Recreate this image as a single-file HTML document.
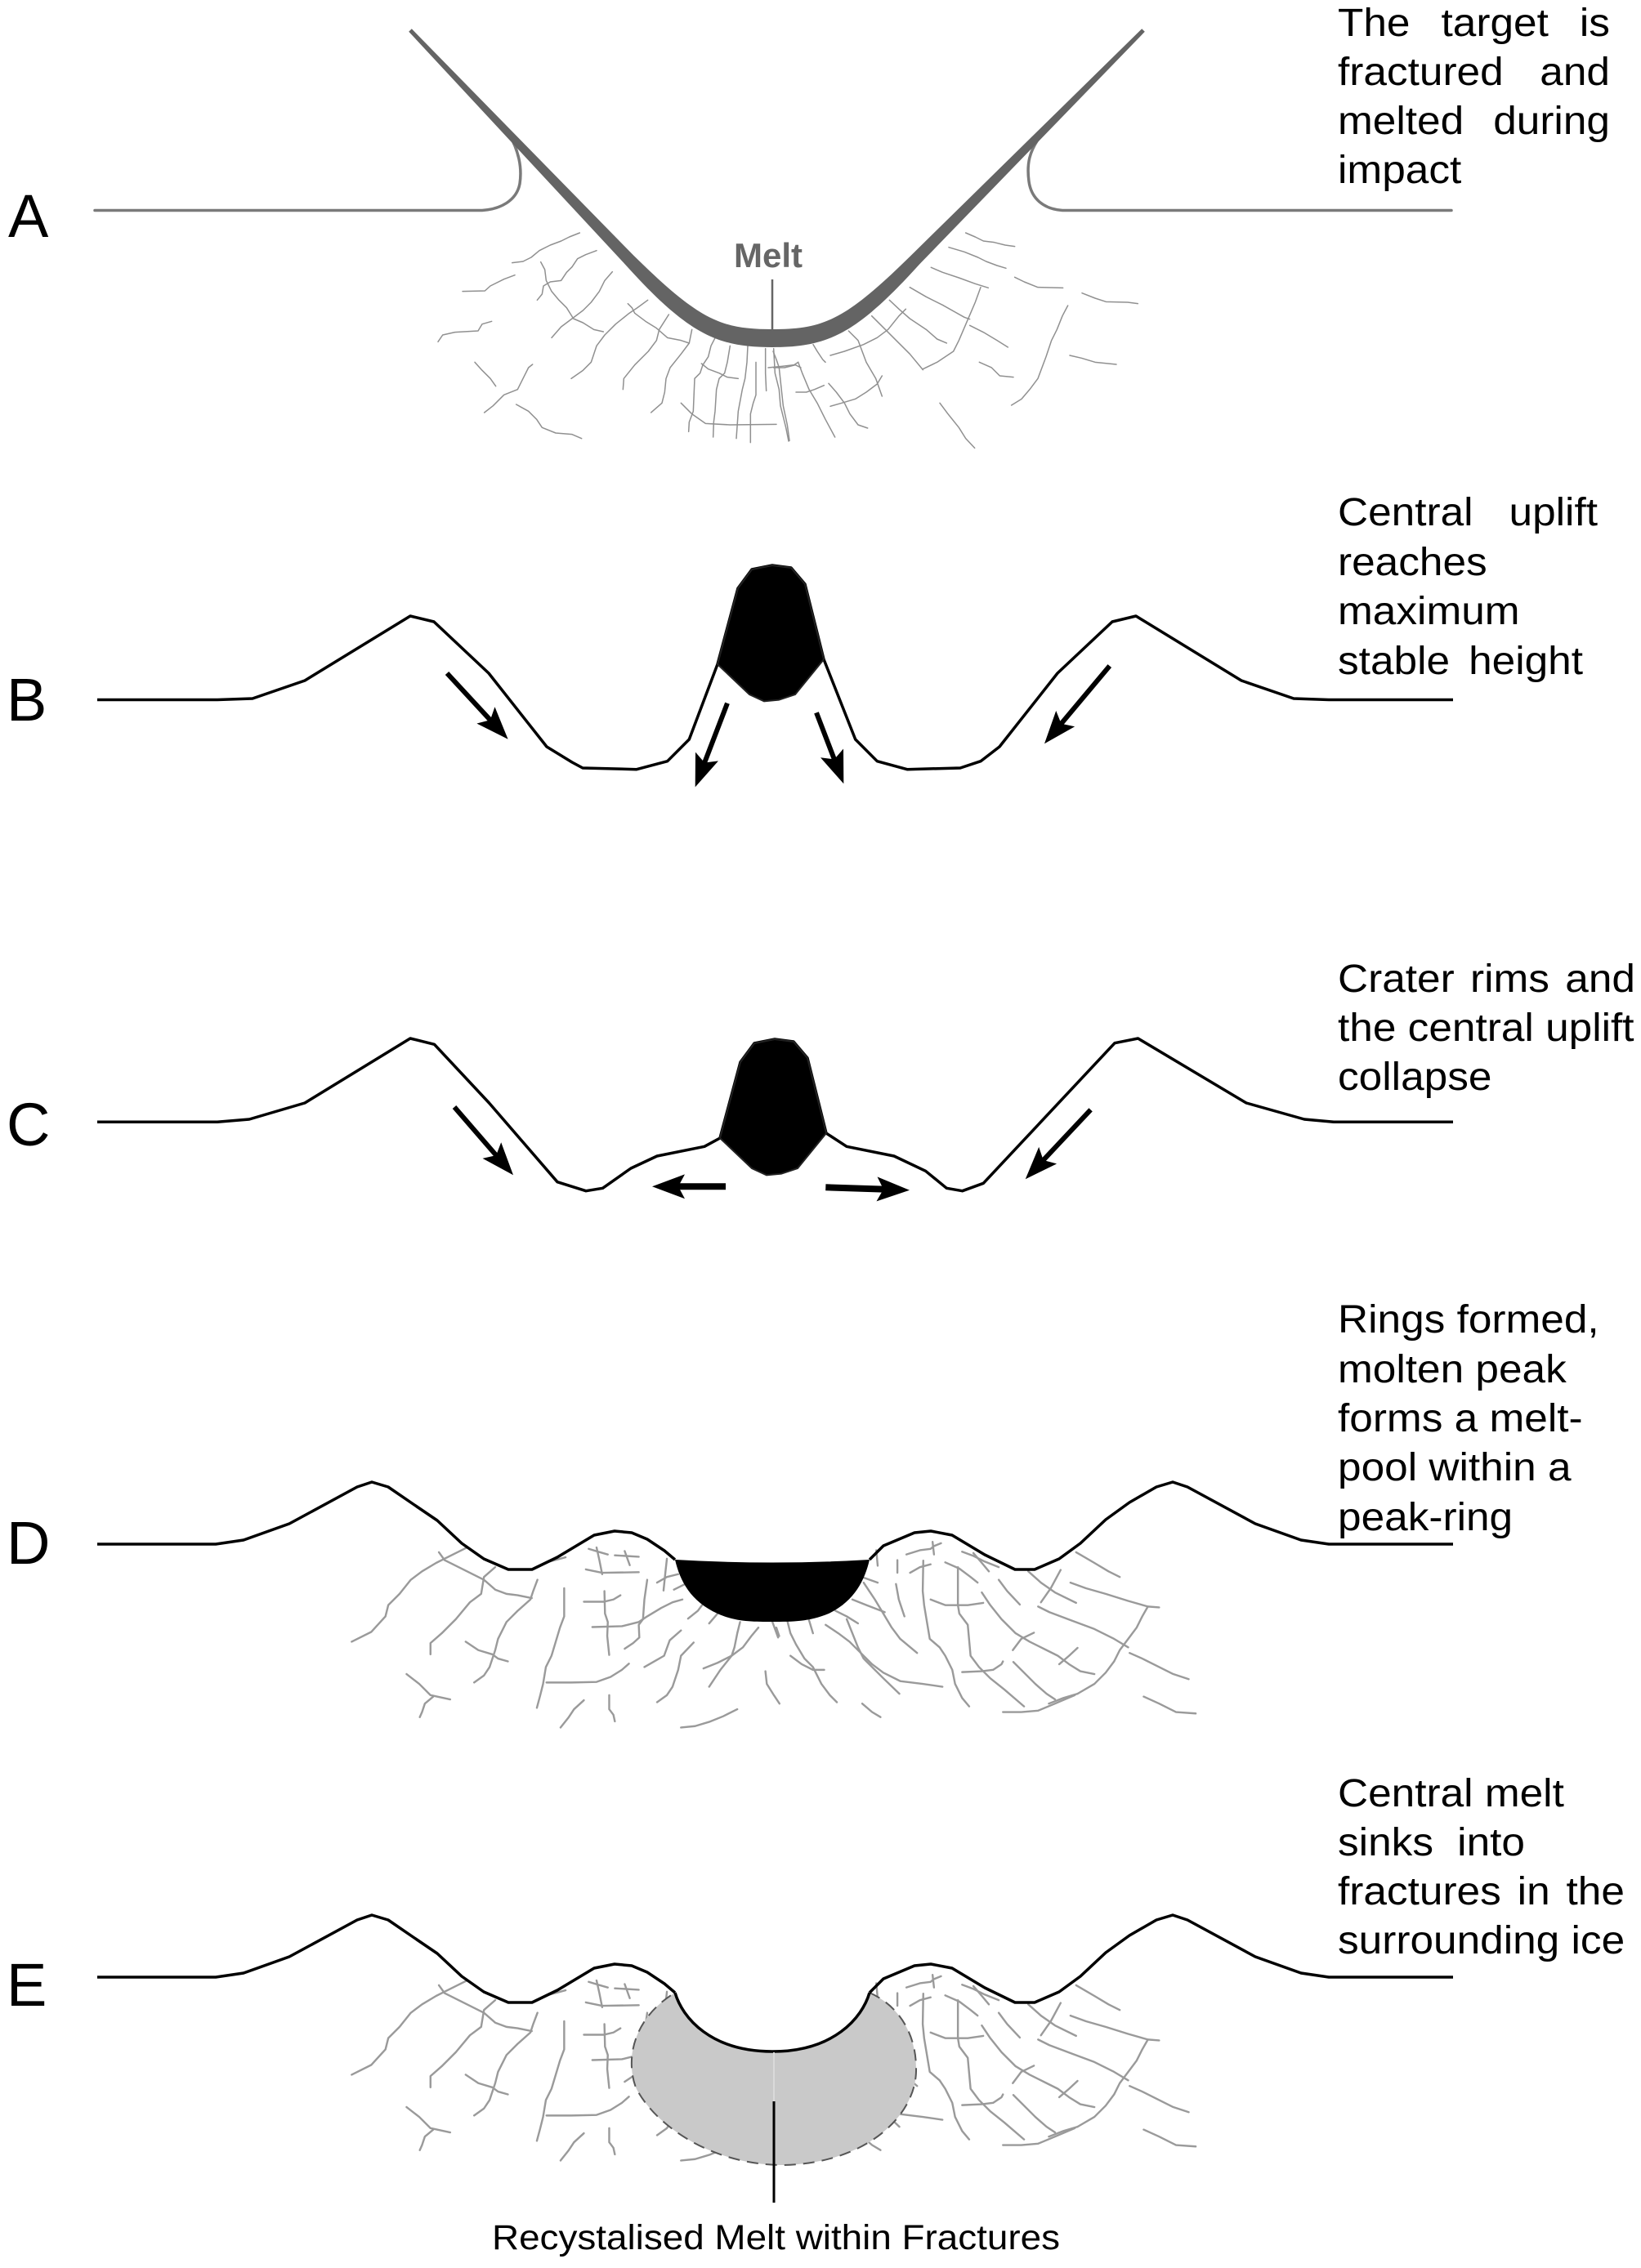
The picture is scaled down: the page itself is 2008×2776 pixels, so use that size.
<!DOCTYPE html>
<html>
<head>
<meta charset="utf-8">
<style>
html,body{margin:0;padding:0;background:#fff;}
body{width:2008px;height:2776px;position:relative;overflow:hidden;font-family:"Liberation Sans",Arial,sans-serif;}
svg{position:absolute;left:0;top:0;}
.t{position:absolute;left:1637px;font-size:48px;line-height:60px;height:60px;white-space:nowrap;transform:scaleX(1.07);transform-origin:0 0;color:#000;}
.j{display:flex;justify-content:space-between;}
</style>
</head>
<body>
<svg width="2008" height="2776" viewBox="0 0 2008 2776" xmlns="http://www.w3.org/2000/svg">
<defs>
<marker id="ah" markerUnits="userSpaceOnUse" markerWidth="40" markerHeight="30" viewBox="0 0 40 30" refX="12" refY="15" orient="auto">
<path d="M0,0 L40,15 L0,30 L8,15 Z" fill="#000"/>
</marker>
</defs>

<!-- Labels -->
<g font-family="Liberation Sans, Arial, sans-serif" font-size="74" fill="#000">
<text x="10" y="290">A</text>
<text x="8" y="882">B</text>
<text x="8" y="1402">C</text>
<text x="8" y="1914">D</text>
<text x="8" y="2455">E</text>
</g>

<!-- ================= PANEL A ================= -->
<g fill="none" stroke="#909090" stroke-width="4.5" stroke-linejoin="round" stroke-linecap="round" transform="translate(500,230) scale(0.33333)">
<path d="M380,275 L420,270 L450,255 L480,230 L520,210 L560,195 L590,180 L628,165"/>
<path d="M198,380 L280,378 L300,360 L350,335 L390,320"/>
<path d="M485,272 L500,300 L505,340 L525,380 L550,410 L580,440 L605,480 L640,495 L680,520 L715,528"/>
<path d="M472,412 L490,390 L495,360 L520,345 L560,340 L580,310 L600,290 L620,260 L650,245 L690,230"/>
<path d="M525,550 L560,510 L600,480 L640,450 L670,420 L700,380 L720,340 L748,308"/>
<path d="M108,565 L125,540 L170,530 L255,525 L270,500 L305,490"/>
<path d="M243,640 L270,670 L300,700 L320,728"/>
<path d="M278,825 L310,800 L350,760 L400,740 L420,700 L440,660 L455,648"/>
<path d="M395,795 L440,820 L470,850 L490,880 L540,900 L600,905 L635,920"/>
<path d="M597,700 L640,670 L670,640 L690,580 L720,540 L760,500 L810,460 L840,440 L878,412"/>
<path d="M805,425 L820,440 L830,460 L870,490 L910,515 L950,550 L1000,560 L1030,570"/>
<path d="M787,740 L790,700 L830,650 L880,600 L910,560 L920,520 L955,465"/>
<path d="M890,825 L930,790 L940,750 L945,700 L960,660 L1000,610 L1030,570 L1040,520"/>
<path d="M1000,790 L1040,830 L1090,865 L1180,870 L1350,868"/>
<path d="M1028,895 L1030,860 L1045,820 L1050,700 L1070,680 L1080,650 L1100,620 L1110,580 L1128,545"/>
<path d="M1118,915 L1120,860 L1125,820 L1130,740 L1140,700 L1160,680 L1170,640 L1180,580"/>
<path d="M1075,645 L1100,665 L1140,680 L1170,695 L1210,700"/>
<path d="M1203,920 L1210,820 L1225,740 L1235,700 L1242,640 L1245,580"/>
<path d="M1255,935 L1255,830 L1265,790 L1275,760 L1275,640"/>
<path d="M1313,745 L1310,680 L1310,590"/>
<path d="M1395,930 L1385,880 L1375,840 L1365,800 L1360,740 L1345,680 L1340,590"/>
<path d="M1340,660 L1380,660 L1420,650 L1440,660"/>
</g>
<g fill="none" stroke="#909090" stroke-width="4.5" stroke-linejoin="round" stroke-linecap="round" transform="translate(940,230) scale(0.33333)">
<path d="M725,165 L760,180 L790,195 L830,200 L870,210 L905,215"/>
<path d="M663,218 L720,235 L770,255 L800,270 L840,285 L873,295"/>
<path d="M598,292 L640,310 L700,330 L760,352 L808,367"/>
<path d="M905,328 L940,345 L990,365 L1082,367"/>
<path d="M1152,386 L1200,405 L1240,418 L1320,420 L1357,425"/>
<path d="M520,365 L580,400 L640,430 L720,475 L740,482"/>
<path d="M780,365 L760,420 L730,490 L700,560 L680,600 L620,640 L568,665"/>
<path d="M445,412 L480,445 L520,480 L580,520 L620,555 L655,570"/>
<path d="M380,470 L430,520 L470,560 L520,610 L568,668"/>
<path d="M740,505 L790,530 L840,560 L880,585"/>
<path d="M505,445 L480,470 L440,520 L400,550 L350,575 L280,600 L228,615"/>
<path d="M295,525 L330,560 L345,600 L360,640 L395,700 L418,765"/>
<path d="M165,575 L180,600 L200,630 L210,640"/>
<path d="M102,750 L140,750 L170,740 L205,725"/>
<path d="M228,802 L270,790 L320,775 L360,750 L400,720 L418,690"/>
<path d="M222,718 L250,750 L280,790 L300,830 L330,870 L365,882"/>
<path d="M110,640 L125,680 L150,740 L180,790 L210,850 L245,915"/>
<path d="M18,600 L30,630 L40,660 L55,800 L70,870 L78,928"/>
<path d="M0,660 L50,655 L95,650 L110,640"/>
<path d="M775,640 L820,660 L850,690 L900,695"/>
<path d="M1100,432 L1080,470 L1060,520 L1040,560 L1020,620 L990,700 L960,740 L930,775 L893,798"/>
<path d="M1107,615 L1150,625 L1200,640 L1278,648"/>
<path d="M630,790 L660,830 L700,880 L725,920 L758,955"/>
</g>
<!-- hooks / ground line A -->
<g fill="none" stroke="#7a7a7a" stroke-width="3.5" stroke-linecap="round">
<path d="M116,257.5 L590,257.5 C612,256 632,246 636,225 C639,205 635,185 622,162"/>
<path d="M1776,257.5 L1300,257.5 C1278,256 1262,244 1259,222 C1256,200 1260,185 1272,168"/>
</g>
<!-- melt pointer -->
<line x1="945" y1="342" x2="945" y2="410" stroke="#666" stroke-width="2.5"/>
<!-- melt V band -->
<path d="M500.2,38.7 L764.6,323.2 C843,410 878,425 945,425 C1012,425 1047,410 1125.3,323.3 L1400.8,38.8 L1397.2,35.2 L1114.7,312.7 C1034,392 1008,403 945,403 C882,403 856,392 775.4,312.8 L503.8,35.3 Z" fill="#646464"/>
<text x="898" y="327" font-family="Liberation Sans, Arial, sans-serif" font-size="42" font-weight="bold" fill="#666">Melt</text>

<!-- ================= PANEL B ================= -->
<path d="M119,856.5 L266,856.5 L309,855 L373,833 L502,754 L531,761 L598,824 L669,914 L700,933 L713,940 L779,941.7 L816.7,931.7 L843.3,905 L878,813 L903,720 L920,697 L945,692 L968,695 L985,715 L1008,807 L1046.7,905 L1073.3,931.7 L1110,941.7 L1175,940 L1200,931.7 L1223,914 L1294,824 L1361,761 L1390,754 L1519,833 L1583,855 L1626,856.5 L1778,856.5" fill="none" stroke="#000" stroke-width="3.5" stroke-linejoin="round"/>
<path d="M878,813 L903,720 L920,697 L945,692 L968,695 L985,715 L1008,807 L973,850 L953,856.7 L935,858.3 L917,850 Z" fill="#000" stroke="#222" stroke-width="2"/>
<g stroke="#000" stroke-width="6" marker-end="url(#ah)">
<line x1="547" y1="824" x2="602.6" y2="884.2"/>
<line x1="890" y1="860.7" x2="860.7" y2="937.2"/>
<line x1="999" y1="872.3" x2="1022.3" y2="933.1"/>
<line x1="1357.8" y1="815.1" x2="1296" y2="888.8"/>
</g>

<!-- ================= PANEL C ================= -->
<path d="M119,1373.3 L266,1373.3 L305,1370 L373,1350 L502,1271 L531.5,1278.3 L598.5,1350 L682,1446.7 L717,1457.7 L737.5,1454.3 L772,1430 L804,1415 L862,1403.3 L881,1393 L906,1300 L923,1277 L948,1272 L971,1275 L988,1295 L1011,1387 L1036,1403.3 L1094,1415 L1132.6,1433.3 L1158.3,1454.3 L1177.6,1457.7 L1203.3,1448.3 L1364,1276.7 L1392.5,1271 L1525,1350 L1596,1370 L1632,1373.3 L1778,1373.3" fill="none" stroke="#000" stroke-width="3.5" stroke-linejoin="round"/>
<path d="M881,1393 L906,1300 L923,1277 L948,1272 L971,1275 L988,1295 L1011,1387 L976,1430 L956,1436.7 L938,1438.3 L920,1430 Z" fill="#000" stroke="#222" stroke-width="2"/>
<g stroke="#000" stroke-width="6" marker-end="url(#ah)">
<line x1="556" y1="1355" x2="609.7" y2="1417.1"/>
<line x1="1334.6" y1="1358.3" x2="1273.9" y2="1422.9"/>
</g>
<g stroke="#000" stroke-width="8" marker-end="url(#ah)">
<line x1="888" y1="1452.3" x2="826" y2="1452.3"/>
<line x1="1010.3" y1="1453.3" x2="1085" y2="1455.8"/>
</g>

<!-- ================= PANEL D ================= -->
<g id="dfr" fill="none" stroke="#9a9a9a" stroke-linejoin="round" stroke-linecap="round">
<g stroke-width="7" transform="translate(420,1820) scale(0.3444)">
<path d="M30,550 L100,515 L150,460 L160,420 L200,380 L240,330 L280,300 L330,270 L360,255 L400,235 L440,215"/>
<path d="M340,232 L360,260 L400,280 L450,305 L500,330 L540,365 L580,380 L620,385 L670,395"/>
<path d="M540,285 L500,320 L490,380 L450,410 L400,470 L350,520 L310,555 L310,595"/>
<path d="M690,330 L675,370 L665,400 L620,440 L580,480 L550,540 L540,580 L520,640 L500,670 L465,695"/>
<path d="M435,550 L480,580 L530,595 L550,610 L585,620"/>
<path d="M225,665 L270,700 L310,740 L380,755"/>
<path d="M320,745 L290,770 L280,800 L272,818"/>
<path d="M785,360 L785,460 L770,500 L755,550 L740,600 L720,640 L710,700 L700,740 L688,785"/>
<path d="M722,695 L810,695 L900,693 L950,675 L990,650 L1015,628"/>
<path d="M855,408 L925,408 L960,400 L985,385"/>
<path d="M928,370 L930,450 L940,480 L938,530 L945,597"/>
<path d="M885,498 L990,495 L1050,480 L1080,460 L1130,430 L1170,410 L1205,400"/>
<path d="M1080,330 L1070,400 L1065,470 L1050,490 L1052,535 L1030,555 L1000,575"/>
<path d="M872,220 L905,230 L940,240 M900,215 L910,260 L920,310"/>
<path d="M965,243 L1050,248 M1000,228 L1018,278"/>
<path d="M862,293 L920,305 L1050,303"/>
<path d="M1150,255 L1145,300 L1138,368"/>
<path d="M1115,340 L1150,320 L1190,310"/>
<path d="M1175,365 L1215,345"/>
<path d="M1200,510 L1160,545 L1140,600 L1070,640"/>
<path d="M1245,553 L1200,600 L1190,650 L1170,710 L1150,740 L1115,765"/>
<path d="M1225,468 L1260,440 L1275,420"/>
<path d="M1300,485 L1330,450"/>
<path d="M1410,480 L1400,520 L1390,570 L1380,600 L1340,650 L1300,710"/>
<path d="M1475,500 L1450,530 L1420,570 L1380,600 L1330,625 L1280,645"/>
<path d="M1500,655 L1505,700 L1530,740 L1550,770"/>
<path d="M1400,790 L1350,815 L1300,835 L1250,850 L1200,855"/>
<path d="M855,758 L820,790 L800,820 L772,855"/>
<path d="M945,740 L945,790 L960,810 L965,833"/>
<path d="M1525,480 L1545,535"/>
<path d="M722,268 L790,250"/>
</g>
<g stroke-width="7" transform="translate(950,1820) scale(0.3444)">
<path d="M1065,232 L1130,270 L1180,300 L1220,320"/>
<path d="M1045,340 L1100,360 L1170,380 L1250,405 L1320,425 L1360,428"/>
<path d="M1320,425 L1300,460 L1280,500 L1250,540 L1220,580 L1200,620 L1170,660 L1130,700 L1070,735"/>
<path d="M930,425 L970,445 L1050,475 L1130,505 L1200,540 L1250,570"/>
<path d="M1255,590 L1300,610 L1360,640 L1410,665 L1465,683"/>
<path d="M1010,295 L975,360 L940,410"/>
<path d="M895,300 L940,340 L990,375 L1065,412"/>
<path d="M790,330 L820,370 L865,418"/>
<path d="M730,375 L760,420 L800,470 L850,520 L900,550 L960,580 L1000,600 L1040,630 L1080,655 L1130,665"/>
<path d="M915,518 L870,540 L840,580"/>
<path d="M1070,572 L1040,600 L1005,630"/>
<path d="M842,622 L880,660 L920,700 L960,735 L990,755"/>
<path d="M968,770 L1020,750 L1070,735"/>
<path d="M805,800 L870,800 L930,795 L990,770 L1060,740"/>
<path d="M1305,745 L1360,770 L1420,800 L1490,805"/>
<path d="M660,230 L700,245 L740,265 L790,285"/>
<path d="M700,235 L730,270 L755,300"/>
<path d="M600,268 L650,290 L690,320 L715,340"/>
<path d="M645,285 L645,350 L645,420 L650,450 L680,490 L690,600 L720,640 L760,680 L810,720 L880,780"/>
<path d="M548,400 L600,420 L680,420 L735,412"/>
<path d="M522,262 L520,370 L525,420 L535,480 L545,540 L580,570 L600,600 L625,650 L635,700 L660,750 L685,780"/>
<path d="M475,305 L510,285 L548,275"/>
<path d="M462,240 L510,225 L548,220 L560,210 L585,200"/>
<path d="M555,195 L560,240"/>
<path d="M430,260 L430,305"/>
<path d="M425,345 L435,400 L455,460"/>
<path d="M355,225 L360,280"/>
<path d="M310,340 L330,370 L350,400 L380,450 L410,500 L440,540 L500,590"/>
<path d="M290,315 L360,340"/>
<path d="M270,400 L320,420 L385,445"/>
<path d="M210,440 L250,460 L290,485"/>
<path d="M175,490 L220,520 L260,550 L300,590 L340,630 L380,660 L440,690 L520,700 L590,710"/>
<path d="M250,470 L270,520 L290,570 L310,610 L340,640 L380,680 L437,735"/>
<path d="M115,470 L130,520"/>
<path d="M50,600 L90,630 L130,650 L170,650"/>
<path d="M40,480 L50,520 L70,560 L100,610 L130,640 L160,700 L190,740 L215,765"/>
<path d="M0,500 L10,530"/>
<path d="M305,770 L340,800 L370,818"/>
<path d="M660,658 L730,655 L770,650 L800,630 L805,620"/>
</g>
</g>
<!-- D pool -->
<path d="M826,1909 Q945,1916 1064,1909 C1058,1935 1045,1960 1014,1975 C990,1985 970,1985 945,1985 C920,1985 900,1985 878,1975 C845,1960 832,1935 826,1909 Z" fill="#000"/>
<path id="dprof" d="M119,1890 L264,1890 L298,1885 L354,1865 L437,1820 L455,1814 L475,1820 L510,1844 L535,1861 L565,1889 L592,1908 L622,1921 L651,1921 L682,1906 L727,1879 L752,1874 L773,1876 L792,1884 L813,1898 L826,1909 M1064,1909 L1081,1892 L1119,1876 L1139,1874 L1165,1879 L1205,1903 L1242,1921 L1266,1921 L1296,1908 L1322,1889 L1353,1860 L1382,1839 L1415,1820 L1435,1814 L1453,1820 L1536,1865 L1592,1885 L1626,1890 L1778,1890" fill="none" stroke="#000" stroke-width="3.5" stroke-linejoin="round"/>

<!-- ================= PANEL E ================= -->
<use href="#dfr" transform="translate(0,530)"/>
<g transform="translate(0,530)">
<path d="M826,1909 L1064,1909 C1055,1940 1020,1981 945,1981 C870,1981 835,1940 826,1909 Z" fill="#fff"/>
<path d="M826,1909 C835,1940 870,1981 945,1981 C1020,1981 1055,1940 1064,1909 C1100,1925 1122,1960 1121,2005 C1120,2060 1060,2118 958,2120 C870,2120 800,2070 778,2025 C765,1990 775,1940 826,1909 Z" fill="#c9c9c9"/>
<path d="M1064,1909 C1100,1925 1122,1960 1121,2005 C1120,2060 1060,2118 958,2120 C870,2120 800,2070 778,2025 C765,1990 775,1940 826,1909" fill="none" stroke="#555" stroke-width="2" stroke-dasharray="14 9"/>
<use href="#dprof"/>
<path d="M826,1909 C835,1940 870,1981 945,1981 C1020,1981 1055,1940 1064,1909" fill="none" stroke="#000" stroke-width="3.5"/>
</g>
<line x1="947" y1="2512" x2="947" y2="2572" stroke="#dadada" stroke-width="2"/>
<line x1="947" y1="2572" x2="947" y2="2696" stroke="#000" stroke-width="3"/>
<text x="602" y="2753" font-family="Liberation Sans, Arial, sans-serif" font-size="43" textLength="695" lengthAdjust="spacingAndGlyphs" fill="#000">Recystalised Melt within Fractures</text>
</svg>

<!-- Right-side descriptions -->
<div class="t j" style="top:-0.9px;width:311.2px"><span>The</span><span>target</span><span>is</span></div>
<div class="t j" style="top:59.4px;width:311.2px"><span>fractured</span><span>and</span></div>
<div class="t j" style="top:119.1px;width:311.2px"><span>melted</span><span>during</span></div>
<div class="t" style="top:179.1px">impact</div>

<div class="t j" style="top:598.4px;width:297.2px"><span>Central</span><span>uplift</span></div>
<div class="t" style="top:658.9px">reaches</div>
<div class="t" style="top:719.4px">maximum</div>
<div class="t j" style="top:779.7px;width:280.4px"><span>stable</span><span>height</span></div>

<div class="t j" style="top:1169.4px;width:340.2px"><span>Crater</span><span>rims</span><span>and</span></div>
<div class="t" style="top:1229.4px">the central uplift</div>
<div class="t" style="top:1289.4px">collapse</div>

<div class="t" style="top:1586.4px">Rings formed,</div>
<div class="t" style="top:1646.9px">molten peak</div>
<div class="t" style="top:1707.4px">forms a melt-</div>
<div class="t" style="top:1767.4px">pool within a</div>
<div class="t" style="top:1828.1px">peak-ring</div>

<div class="t" style="top:2166.4px">Central melt</div>
<div class="t j" style="top:2226.2px;width:214px"><span>sinks</span><span>into</span></div>
<div class="t j" style="top:2286.2px;width:328px"><span>fractures</span><span>in</span><span>the</span></div>
<div class="t" style="top:2346.1px">surrounding ice</div>
</body>
</html>
